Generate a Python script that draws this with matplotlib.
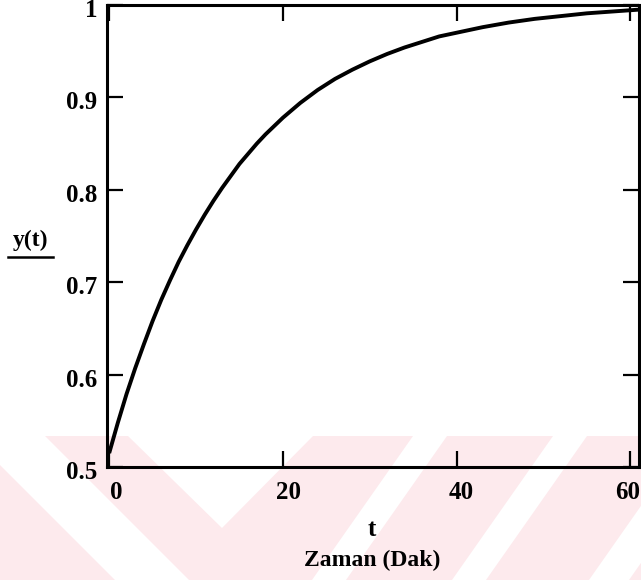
import numpy as np
import matplotlib
matplotlib.use("Agg")
from matplotlib import pyplot as plt
from matplotlib.patches import Polygon
import matplotlib.transforms as mtransforms

# values
t = [0, 1, 2, 3, 4, 5, 6, 7, 8, 9, 10, 11, 12, 13, 14, 15, 16, 17, 18, 19, 20, 22, 24, 26,
     28, 30, 32, 34, 36, 38, 40, 43, 46, 49, 52, 55, 58, 61]
y = [0.515, 0.548, 0.579, 0.607, 0.633, 0.658, 0.681, 0.702, 0.722, 0.740, 0.757, 0.773,
     0.788, 0.802, 0.815, 0.828, 0.839, 0.850, 0.860, 0.869, 0.878, 0.894, 0.908, 0.920,
     0.930, 0.939, 0.947, 0.954, 0.960, 0.966, 0.970, 0.976, 0.981, 0.985, 0.988, 0.991,
     0.993, 0.995]
xticks = [0, 20, 40, 60]
yticks = [0.5, 0.6, 0.7, 0.8, 0.9, 1.0]
yticklabels = ["0.5", "0.6", "0.7", "0.8", "0.9", "1"]

plt.rcParams["font.family"] = ["Liberation Serif", "DejaVu Serif"]
plt.rcParams["font.weight"] = "bold"

W, H = 641, 580
fig = plt.figure(figsize=(W / 100, H / 100), dpi=100)

# faint pink watermark stripes at the bottom of the scan (pixel coords)
def px(pts):
    return [(x / W, 1 - yy / H) for x, yy in pts]

pink = "#fdeaed"
fig.patches.append(Polygon(px([(0, 436), (W, 436), (W, H), (0, H)]), closed=True,
                           transform=fig.transFigure, fc=pink, ec="none", zorder=-2))
whites = [
    [(0, 436), (45, 436), (189, 580), (115, 580), (0, 465)],
    [(128, 436), (313, 436), (222, 528)],
    [(413, 436), (447, 436), (346, 580), (312, 580)],
    [(553, 436), (587, 436), (486, 580), (452, 580)],
    [(690, 436), (730, 436), (629, 580), (589, 580)],
]
for w in whites:
    fig.patches.append(Polygon(px(w), closed=True, transform=fig.transFigure,
                               fc="white", ec="none", zorder=-1))

ax = fig.add_axes([107 / W, 1 - 467 / H, (639 - 107) / W, (467 - 5) / H])
ax.set_zorder(2)
ax.patch.set_alpha(0)
ax.plot(t, y, color="black", lw=2.8, solid_capstyle="butt", solid_joinstyle="round")

ax.set_xlim(-0.25, 61)
ax.set_ylim(0.5, 1.0)
ax.set_xticks(xticks)
ax.set_xticklabels([str(v) for v in xticks])
ax.set_yticks(yticks)
ax.set_yticklabels(yticklabels)
ax.tick_params(direction="in", length=11.5, width=1.6, top=True, right=True,
               labelsize=18, pad=7)
ax.tick_params(axis="x", pad=10)
for s in ax.spines.values():
    s.set_linewidth(2.2)

# x tick labels sit a little right of their ticks in the scan, the last one hugs the edge
labs = ax.get_xticklabels()
shifts = [7, 6, 5, -3]
for lab, dx in zip(labs, shifts):
    off = mtransforms.ScaledTranslation(dx / 100, 0, fig.dpi_scale_trans)
    lab.set_transform(lab.get_transform() + off)
yoff = mtransforms.ScaledTranslation(0, -3 / 100, fig.dpi_scale_trans)
for lab in ax.get_yticklabels():
    lab.set_transform(lab.get_transform() + yoff)

fig.text(31 / W, 1 - 240 / H, "y(t)", ha="center", va="center", fontsize=17, fontweight="bold")
fig.add_artist(plt.Line2D([8 / W, 53 / W], [1 - 257 / H, 1 - 257 / H], color="black", lw=1.8))
fig.text(372 / W, 1 - 530 / H, "t", ha="center", va="center", fontsize=18, fontweight="bold")
fig.text(372 / W, 1 - 560 / H, "Zaman (Dak)", ha="center", va="center", fontsize=17, fontweight="bold")

fig.savefig("out.png", dpi=100)
